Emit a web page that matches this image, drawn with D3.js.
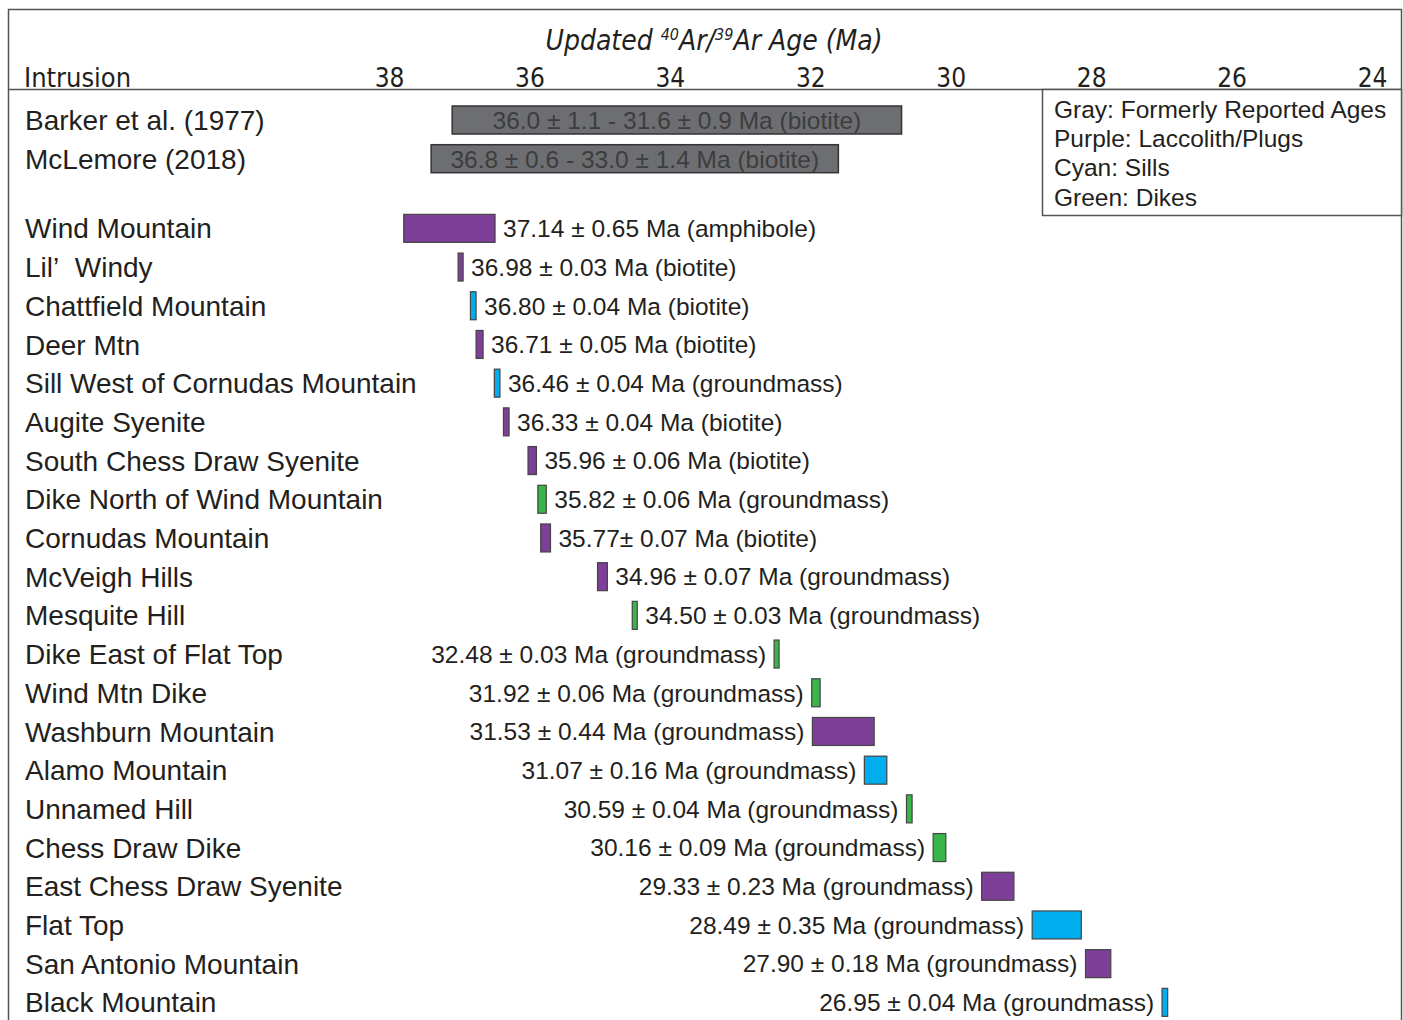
<!DOCTYPE html>
<html><head><meta charset="utf-8">
<script src="https://cdn.jsdelivr.net/npm/d3@7"></script>
<style>
body{margin:0;background:#fff;}
svg{display:block;}
.narrow{font-family:"Liberation Sans Narrow","DejaVu Sans Condensed","Arial Narrow",sans-serif;}
.sans{font-family:"Liberation Sans",Arial,Helvetica,sans-serif;white-space:pre;}
</style>
</head><body>
<svg id="c" width="1403" height="1020"></svg>
<script>
// ---- data ----
const formerNames = ["Barker et al. (1977)", "McLemore (2018)"];
const formerStart = [36.0, 36.8];
const formerStartErr = [1.1, 0.6];
const formerEnd = [31.6, 33.0];
const formerEndErr = [0.9, 1.4];
const formerLabels = ["36.0 ± 1.1 - 31.6 ± 0.9 Ma (biotite)", "36.8 ± 0.6 - 33.0 ± 1.4 Ma (biotite)"];

const names = ["Wind Mountain","Lil’\u00a0 Windy","Chattfield Mountain","Deer Mtn","Sill West of Cornudas Mountain","Augite Syenite","South Chess Draw Syenite","Dike North of Wind Mountain","Cornudas Mountain","McVeigh Hills","Mesquite Hill","Dike East of Flat Top","Wind Mtn Dike","Washburn Mountain","Alamo Mountain","Unnamed Hill","Chess Draw Dike","East Chess Draw Syenite","Flat Top","San Antonio Mountain","Black Mountain"];
const ages = [37.14,36.98,36.80,36.71,36.46,36.33,35.96,35.82,35.77,34.96,34.50,32.48,31.92,31.53,31.07,30.59,30.16,29.33,28.49,27.90,26.95];
const errs = [0.65,0.03,0.04,0.05,0.04,0.04,0.06,0.06,0.07,0.07,0.03,0.03,0.06,0.44,0.16,0.04,0.09,0.23,0.35,0.18,0.04];
const types = ["L","L","S","L","S","L","L","D","L","L","D","D","D","L","S","D","D","L","S","L","S"];
const labelTexts = ["37.14 ± 0.65 Ma (amphibole)","36.98 ± 0.03 Ma (biotite)","36.80 ± 0.04 Ma (biotite)","36.71 ± 0.05 Ma (biotite)","36.46 ± 0.04 Ma (groundmass)","36.33 ± 0.04 Ma (biotite)","35.96 ± 0.06 Ma (biotite)","35.82 ± 0.06 Ma (groundmass)","35.77± 0.07 Ma (biotite)","34.96 ± 0.07 Ma (groundmass)","34.50 ± 0.03 Ma (groundmass)","32.48 ± 0.03 Ma (groundmass)","31.92 ± 0.06 Ma (groundmass)","31.53 ± 0.44 Ma (groundmass)","31.07 ± 0.16 Ma (groundmass)","30.59 ± 0.04 Ma (groundmass)","30.16 ± 0.09 Ma (groundmass)","29.33 ± 0.23 Ma (groundmass)","28.49 ± 0.35 Ma (groundmass)","27.90 ± 0.18 Ma (groundmass)","26.95 ± 0.04 Ma (groundmass)"];
const ticks = [38,36,34,32,30,28,26,24];
const legendLines = ["Gray: Formerly Reported Ages","Purple: Laccolith/Plugs","Cyan: Sills","Green: Dikes"];
const typeColors = {L:"#7e3f98", S:"#00aeef", D:"#39b54a"};

// ---- layout ----
const svg = d3.select("#c");
const W = 1403, H = 1020;
const x = d3.scaleLinear().domain([38,24]).range([389,1372]);
const y = d3.scaleLinear().domain([0,1]).range([120,158.7]);
const barH = 28;
const txt = "#231f20";
const nameSize = 28, valSize = 24.5;

// frame
svg.append("path").attr("d",`M8.5,${H+2} V9.5 H1401.5 V${H+2}`).attr("fill","none").attr("stroke","#555").attr("stroke-width",1.5);
svg.append("line").attr("x1",8).attr("x2",1402).attr("y1",89.5).attr("y2",89.5).attr("stroke","#555").attr("stroke-width",1.5);

// title
const title = svg.append("text").attr("class","narrow").attr("x",714).attr("y",50).attr("text-anchor","middle")
  .attr("font-size",28).attr("font-style","italic").attr("fill",txt);
title.append("tspan").text("Updated ");
title.append("tspan").attr("font-size",16).attr("dy",-10).text("40");
title.append("tspan").attr("dy",10).text("Ar/");
title.append("tspan").attr("font-size",16).attr("dy",-10).text("39");
title.append("tspan").attr("dy",10).text("Ar Age (Ma)");

svg.append("text").attr("class","narrow").attr("x",24).attr("y",87).attr("font-size",27).attr("fill",txt).text("Intrusion");

// axis ticks (labels only)
const axis = d3.axisTop(x).tickValues(ticks).tickSize(0).tickPadding(0).tickFormat(d3.format("d"));
const ag = svg.append("g").attr("transform","translate(0,87)").call(axis);
ag.select(".domain").remove();
ag.selectAll("text").attr("class","narrow").attr("font-size",26).attr("fill",txt).attr("dy",0);

// former ranges (gray)
formerNames.forEach((n,i)=>{
  const yc = y(i);
  svg.append("text").attr("class","sans").attr("x",25).attr("y",yc).attr("dy","0.36em").attr("font-size",nameSize).attr("fill",txt).text(n);
  const x0 = x(formerStart[i]+formerStartErr[i]), x1 = x(formerEnd[i]-formerEndErr[i]);
  svg.append("rect").attr("x",x0).attr("y",yc-barH/2).attr("width",x1-x0).attr("height",barH)
    .attr("fill","#6d6e71").attr("stroke","#333").attr("stroke-width",1.5);
  svg.append("text").attr("class","sans").attr("x",(x0+x1)/2).attr("y",yc).attr("dy","0.36em").attr("text-anchor","middle")
    .attr("font-size",valSize).attr("fill","#3d3d3d").text(formerLabels[i]);
});

// intrusions
names.forEach((n,i)=>{
  const yc = y(2.8+i);
  svg.append("text").attr("class","sans").attr("x",25).attr("y",yc).attr("dy","0.36em").attr("font-size",nameSize).attr("fill",txt).text(n);
  let x0 = x(ages[i]+errs[i]), x1 = x(ages[i]-errs[i]);
  if (x1-x0 < 5){ const c=(x0+x1)/2; x0=c-2.5; x1=c+2.5; }
  svg.append("rect").attr("x",x0).attr("y",yc-barH/2).attr("width",x1-x0).attr("height",barH)
    .attr("fill",typeColors[types[i]]).attr("stroke","#444").attr("stroke-width",1.2);
  const right = i <= 10;
  svg.append("text").attr("class","sans").attr("x", right ? x1+8 : x0-8).attr("y",yc).attr("dy","0.36em")
    .attr("text-anchor", right ? "start" : "end").attr("font-size",valSize).attr("fill",txt).text(labelTexts[i]);
});

// legend
svg.append("rect").attr("x",1042.5).attr("y",89.5).attr("width",359).attr("height",126).attr("fill","#fff").attr("stroke","#555").attr("stroke-width",1.5);
legendLines.forEach((l,i)=>{
  svg.append("text").attr("class","sans").attr("x",1054).attr("y",109+29.3*i).attr("dy","0.36em").attr("font-size",valSize).attr("fill",txt).text(l);
});
</script>
</body></html>
